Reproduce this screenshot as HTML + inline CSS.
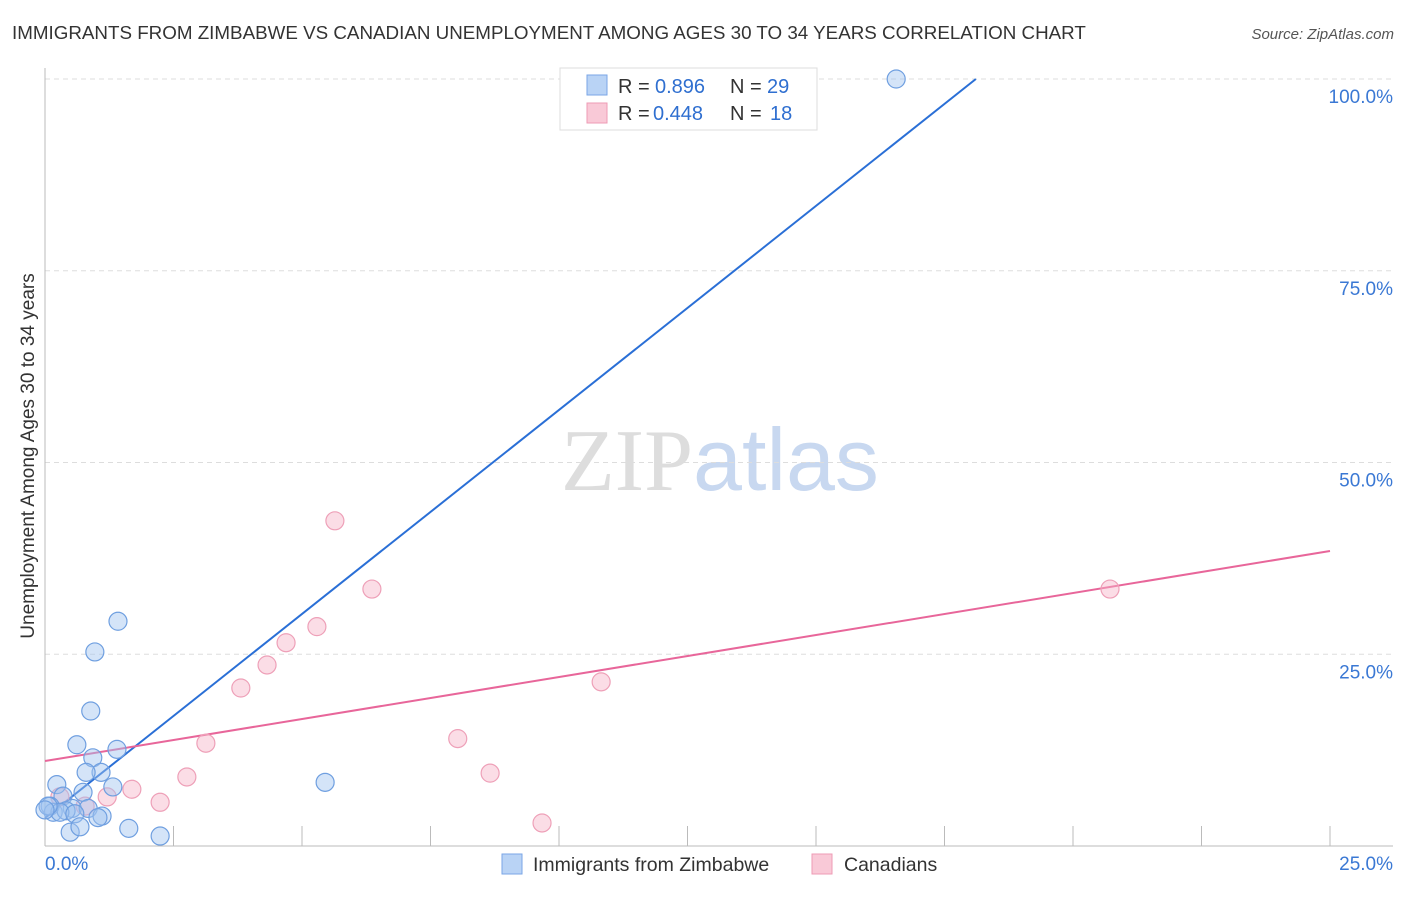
<!DOCTYPE html>
<html><head><meta charset="utf-8"><style>
body{margin:0;background:#fff;font-family:"Liberation Sans",sans-serif;}
svg text{font-family:"Liberation Sans",sans-serif;}
</style></head><body>
<svg id="chart" width="1406" height="892" xmlns="http://www.w3.org/2000/svg">
<text x="12" y="39" font-size="18.8" fill="#333">IMMIGRANTS FROM ZIMBABWE VS CANADIAN UNEMPLOYMENT AMONG AGES 30 TO 34 YEARS CORRELATION CHART</text>
<text x="1394" y="39" font-size="15" fill="#555" text-anchor="end" font-style="italic">Source: ZipAtlas.com</text>
<text transform="translate(34,456) rotate(-90)" font-size="19" fill="#333" text-anchor="middle">Unemployment Among Ages 30 to 34 years</text>
<text x="720" y="490" font-size="88" text-anchor="middle"><tspan fill="#ddd" font-family="Liberation Serif">ZIP</tspan><tspan fill="#c8d8f0">atlas</tspan></text>
<g id="grid"></g><g id="axes"></g><g id="lines"></g><g id="pts"></g>
<g>
<rect x="560" y="68" width="257" height="62" fill="#fff" stroke="#ddd"/>
<rect x="587" y="75" width="20" height="20" fill="#b9d3f5" stroke="#7aa6e6"/>
<rect x="587" y="103" width="20" height="20" fill="#f9c9d7" stroke="#ee9bb4"/>
<text x="618" y="93" font-size="20" fill="#333">R =</text>
<text x="655" y="93" font-size="20" fill="#2f6fd0">0.896</text>
<text x="730" y="93" font-size="20" fill="#333">N =</text>
<text x="767" y="93" font-size="20" fill="#2f6fd0">29</text>
<text x="618" y="120" font-size="20" fill="#333">R =</text>
<text x="653" y="120" font-size="20" fill="#2f6fd0">0.448</text>
<text x="730" y="120" font-size="20" fill="#333">N =</text>
<text x="770" y="120" font-size="20" fill="#2f6fd0">18</text>
</g>
<g>
<rect x="502" y="854" width="20" height="20" fill="#b9d3f5" stroke="#7aa6e6"/>
<text x="533" y="871" font-size="19.5" fill="#333">Immigrants from Zimbabwe</text>
<rect x="812" y="854" width="20" height="20" fill="#f9c9d7" stroke="#ee9bb4"/>
<text x="844" y="871" font-size="19.5" fill="#333">Canadians</text>
</g>
</svg>
<script>
const blueX=[1.42,0.97,0.89,0.62,1.40,0.93,1.09,0.80,0.23,1.32,0.74,0.35,0.10,0.53,0.84,0.16,0.41,0.29,0.58,1.11,1.03,0.49,0.68,1.63,2.24,5.45,16.56,0.06,0.0];
const blueY=[29.3,25.3,17.6,13.2,12.6,11.5,9.6,9.6,8.0,7.7,7.0,6.5,5.2,4.9,4.9,4.4,4.6,4.4,4.2,3.9,3.7,1.8,2.5,2.3,1.3,8.3,100,5.2,4.7];
const pinkX=[5.64,6.36,5.29,4.69,4.32,3.81,3.13,8.03,10.82,20.72,2.76,8.66,2.24,1.69,1.21,9.67,0.29,0.78];
const pinkY=[42.4,33.5,28.6,26.5,23.6,20.6,13.4,14.0,21.4,33.5,9.0,9.5,5.7,7.4,6.4,3.0,6.4,5.2];
const blueLine=[[0,3.65],[18.11,100]];
const pinkLine=[[0,11.08],[25,38.46]];
const yTicks=[25,50,75,100];
const xTickVals=[0,2.5,5,7.5,10,12.5,15,17.5,20,22.5,25];
const NS='http://www.w3.org/2000/svg';
const sx=v=>45+v/25*1285, sy=v=>846-v/100*767;
function mk(tag,attrs,parent){const e=document.createElementNS(NS,tag);for(const k in attrs)e.setAttribute(k,attrs[k]);document.getElementById(parent).appendChild(e);return e;}
yTicks.forEach(t=>{
 const l=mk('line',{x1:45,x2:1393,y1:sy(t),y2:sy(t),stroke:'#ddd','stroke-dasharray':'5,4'},'grid');
 
 
 const tx=mk('text',{x:1393,y:sy(t)+24,'font-size':19,fill:'#3a78d4','text-anchor':'end'},'grid');
 
 
 tx.textContent=t.toFixed(1)+'%';
});
const ax=mk('line',{x1:45,x2:45,y1:68,y2:846,stroke:'#bbb'},'axes');


const bx=mk('line',{x1:45,x2:1393,y1:846,y2:846,stroke:'#bbb'},'axes');


xTickVals.forEach(t=>{
 const l=mk('line',{x1:sx(t),x2:sx(t),y1:826,y2:846,stroke:'#bbb'},'axes');
 
 
});
[[0,'start'],[25,'end']].forEach(([t,a])=>{
 const tx=mk('text',{x:t==0?45:1393,y:870,'font-size':19,fill:'#3a78d4','text-anchor':a},'axes');
 
 
 tx.textContent=t.toFixed(1)+'%';
});
const bl=mk('line',{x1:sx(blueLine[0][0]),y1:sy(blueLine[0][1]),x2:sx(blueLine[1][0]),y2:sy(blueLine[1][1]),stroke:'#2a6fd6','stroke-width':2},'lines');


const pl=mk('line',{x1:sx(pinkLine[0][0]),y1:sy(pinkLine[0][1]),x2:sx(pinkLine[1][0]),y2:sy(pinkLine[1][1]),stroke:'#e8669a','stroke-width':2},'lines');


pinkX.forEach((x,i)=>{
 const c=mk('circle',{cx:sx(x),cy:sy(pinkY[i]),r:9,fill:'rgba(246,180,200,0.45)',stroke:'#eea0b8','stroke-width':1.2},'pts');
 
 
});
blueX.forEach((x,i)=>{
 const c=mk('circle',{cx:sx(x),cy:sy(blueY[i]),r:9,fill:'rgba(160,195,240,0.45)',stroke:'#6f9fe0','stroke-width':1.2},'pts');
 
 
});
</script>
</body></html>
